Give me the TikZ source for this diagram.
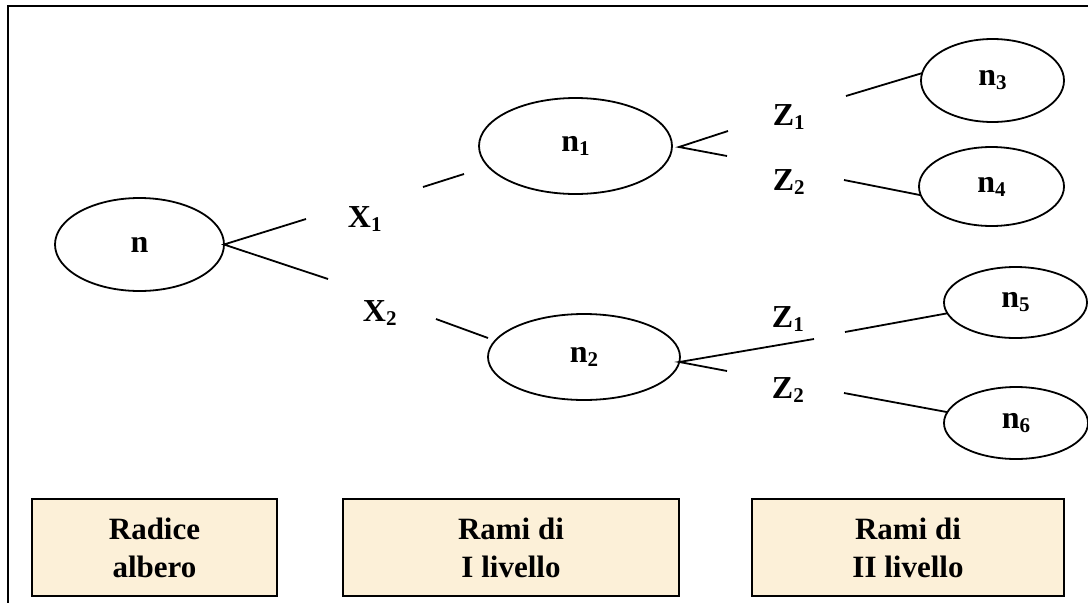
\documentclass[tikz,border=0pt]{standalone}
\usepackage{fontspec}
\setmainfont{Liberation Serif}
\usetikzlibrary{shapes.geometric}
\definecolor{parchment}{RGB}{252,240,216}
\newcommand\lowsub[1]{\raisebox{-4pt}{\fontsize{21}{21}\selectfont #1}}
\begin{document}
\begin{tikzpicture}[x=1pt,y=-1pt,line width=1.8pt,
  tnode/.style={draw,ellipse,inner sep=0pt,outer sep=0pt,font=\fontsize{32}{38}\selectfont\bfseries},
  lab/.style={anchor=base west,inner sep=0pt,font=\fontsize{32}{38}\selectfont\bfseries},
  levelbox/.style={draw,fill=parchment,line width=2pt,minimum height=97pt,align=center,inner sep=0pt,
    font=\fontsize{31}{38}\selectfont\bfseries},
  conn/.style={line width=1.8pt}]
\useasboundingbox (0,0) rectangle (1088,603);
% frame
\coordinate (ftr) at (1088,6);
\coordinate (ftl) at (8,6);
\coordinate (fbl) at (8,603);
\draw[line width=2.2pt] (ftr) -- (ftl) -- (fbl);
% ellipses
\node[tnode,minimum width=169pt,minimum height=93pt] (n) at (139.5,244.5) {n};
\node[tnode,minimum width=193pt,minimum height=96pt] (n1) at (575.5,146) {n\lowsub{1}};
\node[tnode,minimum width=192pt,minimum height=86pt] (n2) at (584,357) {n\lowsub{2}};
\node[tnode,minimum width=143pt,minimum height=83pt] (n3) at (992.5,80.5) {n\lowsub{3}};
\node[tnode,minimum width=145pt,minimum height=79pt] (n4) at (991.5,186.5) {n\lowsub{4}};
\node[tnode,minimum width=143pt,minimum height=71pt] (n5) at (1015.5,302.5) {n\lowsub{5}};
\node[tnode,minimum width=144pt,minimum height=72pt] (n6) at (1016,423) {n\lowsub{6}};
% branch labels
\node[lab] (x1) at (347,227) {X\lowsub{1}};
\node[lab] (x2) at (362,321) {X\lowsub{2}};
\node[lab] (z1a) at (772,125) {Z\lowsub{1}};
\node[lab] (z2a) at (772,190) {Z\lowsub{2}};
\node[lab] (z1b) at (771,327) {Z\lowsub{1}};
\node[lab] (z2b) at (771,398) {Z\lowsub{2}};
% free ends of the broken connectors
\coordinate (x1in) at (306,219);
\coordinate (x2in) at (328,279);
\coordinate (x1out) at (423,187);
\coordinate (n1in) at (464,174);
\coordinate (x2out) at (436,319);
\coordinate (n2in) at (488,338);
\coordinate (n1out) at (679,147);
\coordinate (z1ain) at (728,131);
\coordinate (z2ain) at (727,156);
\coordinate (z1aout) at (846,96);
\coordinate (z2aout) at (844,180);
\coordinate (z1bin) at (814,339);
\coordinate (z2bin) at (727,371);
\coordinate (z1bout) at (845,332);
\coordinate (z2bout) at (844,393);
% connectors
\draw[conn] (x1in) -- (n.east) -- (x2in);
\draw[conn] (x1out) -- (n1in);
\draw[conn] (x2out) -- (n2in);
\draw[conn] (z1ain) -- (n1out) -- (z2ain);
\draw[conn] (z1bin) -- (n2.-3) -- (z2bin);
\draw[conn] (z1aout) -- (n3.174);
\draw[conn] (z2aout) -- (n4.187);
\draw[conn] (z1bout) -- (n5.189);
\draw[conn] (z2bout) -- (n6.171);
% level boxes
\node[levelbox,minimum width=245pt] (b1) at (154.5,547.5) {Radice\\albero};
\node[levelbox,minimum width=336pt] (b2) at (511,547.5) {Rami di\\I livello};
\node[levelbox,minimum width=312pt] (b3) at (908,547.5) {Rami di\\II livello};
\end{tikzpicture}
\end{document}
